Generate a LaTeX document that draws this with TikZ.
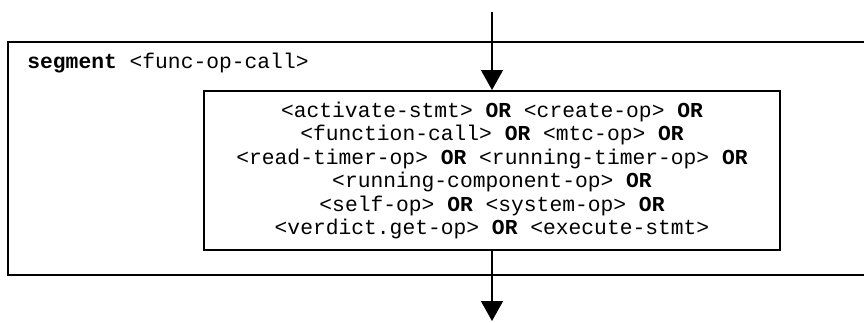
\documentclass[tikz,border=0pt]{standalone}
\usepackage{fontspec}
\setmainfont{Liberation Mono}
\usetikzlibrary{arrows.meta}
\tikzset{
  conn/.style={line width=0.75pt, -{Triangle[width=11pt,length=10pt]}},
  frame/.style={line width=1pt},
  body/.style={draw, line width=1pt, minimum width=288pt, minimum height=79.5pt, inner sep=0pt, align=center,
    font=\fontsize{10.65}{11.75}\selectfont},
  lbl/.style={anchor=west, inner sep=0pt, font=\fontsize{10.65}{11.75}\selectfont}
}
\begin{document}
\begin{tikzpicture}[x=0.5pt,y=-0.5pt]
\clip (0,0) rectangle (864,322);
\fill[white] (0,0) rectangle (864,322);
\draw[frame] (880,42) -- (8,42) -- (8,275) -- (880,275);
\node[lbl] (seg) at (27,63) {\textbf{segment} <func-op-call>};
\node[body] (inner) at (492,170.5) {<activate-stmt> \textbf{OR} <create-op> \textbf{OR}\\
<function-call> \textbf{OR} <mtc-op> \textbf{OR}\\
<read-timer-op> \textbf{OR} <running-timer-op> \textbf{OR}\\
<running-component-op> \textbf{OR}\\
<self-op> \textbf{OR} <system-op> \textbf{OR}\\
<verdict.get-op> \textbf{OR} <execute-stmt>};
\coordinate (start) at (492,12);
\coordinate (finish) at (492,321);
\draw[conn] (start) -- (inner.north);
\draw[conn] (inner.south) -- (finish);
\end{tikzpicture}
\end{document}
